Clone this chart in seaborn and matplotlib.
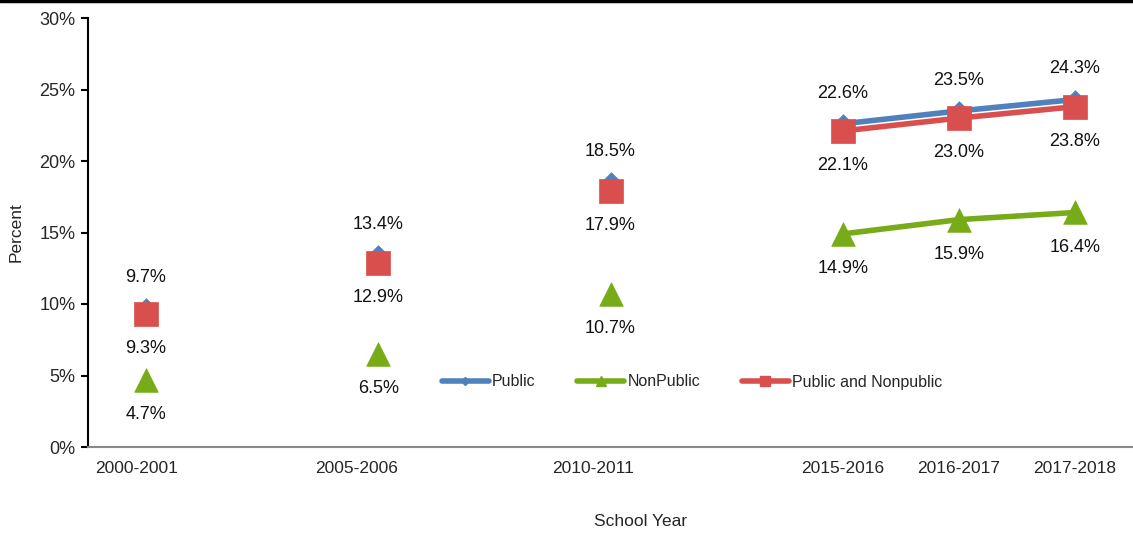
import numpy as np
import pandas as pd
import matplotlib
matplotlib.use("Agg")
import matplotlib.pyplot as plt
import seaborn as sns
from matplotlib.lines import Line2D

sns.set_theme(style="white")
plt.rcParams['font.family'] = ['Liberation Sans', 'DejaVu Sans']

# slots on the category axis (blank slots separate the early years)
categories = ["2000-2001", "", "2005-2006", "", "2010-2011", "", "2015-2016", "2016-2017", "2017-2018"]
public = [9.7, np.nan, 13.4, np.nan, 18.5, np.nan, 22.6, 23.5, 24.3]
nonpublic = [4.7, np.nan, 6.5, np.nan, 10.7, np.nan, 14.9, 15.9, 16.4]
both = [9.3, np.nan, 12.9, np.nan, 17.9, np.nan, 22.1, 23.0, 23.8]
series_names = ["Public", "NonPublic", "Public and Nonpublic"]
colors = ["#4F81BD", "#77AB17", "#D94F4D"]
markers = ["D", "^", "s"]
msizes = [10, 17, 17]
label_offsets = [22, -25, -25]  # points (above/below)

fig = plt.figure(figsize=(11.33, 5.35), dpi=100)
ax = fig.add_axes([88/1133, 1-447/535, 1-88/1133, (447-18)/535])

x = np.arange(len(categories))
for name, vals, c, m, ms, off in zip(series_names, [public, nonpublic, both], colors, markers, msizes, label_offsets):
    df = pd.DataFrame({"x": x, "y": vals})
    seg = []
    for i in range(len(df)):
        if np.isnan(df.y[i]):
            if len(seg) > 1:
                sns.lineplot(data=df.iloc[seg], x="x", y="y", ax=ax, color=c, lw=4, legend=False)
            seg = []
        else:
            seg.append(i)
    if len(seg) > 1:
        sns.lineplot(data=df.iloc[seg], x="x", y="y", ax=ax, color=c, lw=4, legend=False)
    d = df.dropna()
    sns.scatterplot(data=d, x="x", y="y", ax=ax, color=c, marker=m, s=ms**2,
                    edgecolor=c, linewidth=0.5, legend=False, zorder=5)
    for xi, yi in zip(d.x, d.y):
        ax.annotate(f"{yi:.1f}%", (xi, yi), xytext=(0, off), textcoords="offset points",
                    ha="center", va="center", fontsize=13, color="#111111")

ax.set_xlim(-0.5, len(categories) - 0.5)
ax.set_ylim(0, 30)
ax.set_yticks(np.arange(0, 31, 5))
ax.set_yticklabels([f"{v}%" for v in range(0, 31, 5)], fontsize=13)

lab_idx = [i for i, c in enumerate(categories) if c]
ax.set_xticks([-0.086, 1.81, 3.85, 6.0, 7.0, 8.0])
ax.set_xticklabels([categories[i] for i in lab_idx], fontsize=12.5)
ax.tick_params(axis="x", which="major", length=0, pad=10)
ax.set_xticks([0.414, 1.353, 2.284, 3.224, 4.49, 5.5, 6.5, 7.5], minor=True)
ax.tick_params(axis="x", which="minor", length=5, color="#888888", width=1, direction="out")
ax.tick_params(axis="y", length=5, color="black", width=1.5, direction="out", left=True, pad=4)

for s in ["top", "right"]:
    ax.spines[s].set_visible(False)
ax.spines["left"].set_color("black")
ax.spines["left"].set_linewidth(1.5)
ax.spines["bottom"].set_color("#888888")
ax.spines["bottom"].set_linewidth(1.5)

ax.set_xlabel("")
ax.set_ylabel("")
fig.text(16/1133, 1-232/535, "Percent", rotation=90, ha="center", va="center", fontsize=12.5)
fig.text(641/1133, 1-522/535, "School Year", ha="center", va="center", fontsize=12.5)

handles = [Line2D([0], [0], color=c, lw=4, marker=m, markersize=ms*0.45) for c, m, ms in zip(colors, markers, msizes)]
leg = ax.legend(handles, series_names, loc="center", bbox_to_anchor=((692-88)/(1133-88), (447-382)/(447-18)),
                ncol=3, frameon=False, fontsize=11.5, handlelength=2.95, handletextpad=0.2, columnspacing=2.6)

fig.add_artist(Line2D([0, 1], [1-1/535, 1-1/535], transform=fig.transFigure, color="black", lw=2.5))

fig.savefig("out.png", dpi=100)
